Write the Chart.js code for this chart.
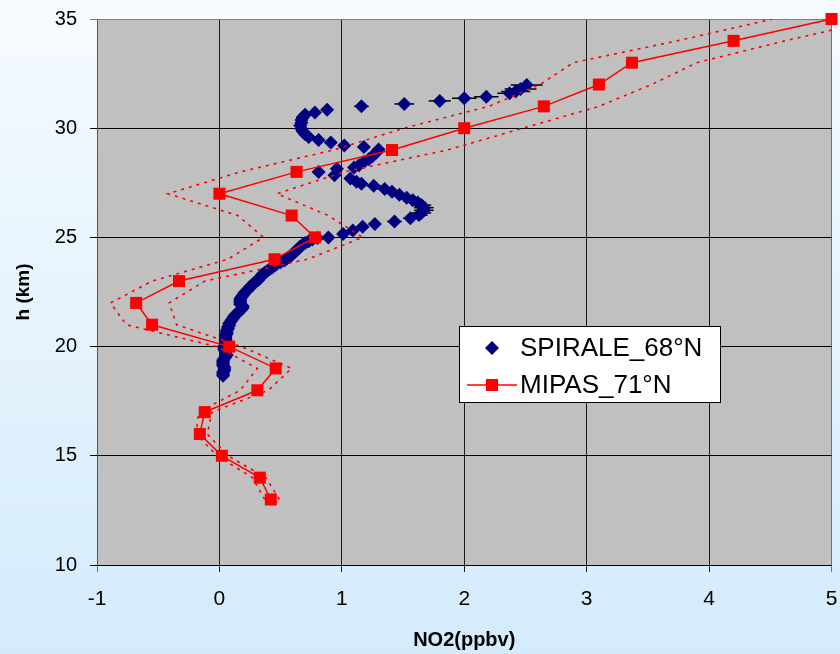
<!DOCTYPE html>
<html>
<head>
<meta charset="utf-8">
<script src="https://cdn.jsdelivr.net/npm/chart.js@4/dist/chart.umd.min.js"></script>
<style>
  html, body { margin: 0; padding: 0; }
  body {
    width: 840px; height: 654px; overflow: hidden;
    background: linear-gradient(to bottom, #f6fbff 0%, #d4ebfb 100%);
  }
  canvas { display: block; }
</style>
</head>
<body>
<canvas id="chart" width="840" height="654"></canvas>
<script>
const FONT = "'Liberation Sans', Arial, sans-serif";
const NARROW = "'Liberation Sans Narrow', 'Liberation Sans', Arial, sans-serif";

// MIPAS 71N profile, one value per km, with lower / upper bounds (dotted)
const mipasH = [13, 14, 15, 16, 17, 18, 19, 20, 21, 22, 23, 24, 25, 26, 27, 28, 29, 30, 31, 32, 33, 34, 35];
const mipasNO2 = [0.42, 0.33, 0.02, -0.16, -0.12, 0.31, 0.46, 0.08, -0.55, -0.68, -0.33, 0.45, 0.78, 0.59, 0.00, 0.63, 1.41, 2.00, 2.65, 3.10, 3.37, 4.20, 5.00];
const mipasLow = [0.37, 0.27, -0.02, -0.19, -0.17, 0.17, 0.31, -0.02, -0.76, -0.89, -0.55, 0.07, 0.36, 0.15, -0.42, 0.17, 0.93, 1.51, 2.20, 2.62, 2.89, 3.74, 4.52];
const mipasHigh = [0.49, 0.38, 0.07, -0.10, -0.06, 0.40, 0.59, 0.18, -0.35, -0.41, -0.12, 0.72, 1.17, 0.89, 0.47, 1.02, 1.86, 2.48, 3.10, 3.53, 3.90, 4.62, 5.40];

// SPIRALE 68N balloon profile (altitude, NO2, error on NO2)
const spiraleH = [
  31.98, 31.80, 31.68, 31.60, 31.44, 31.37, 31.25, 31.11, 31.00, 30.85, 30.72, 30.62, 30.50, 30.38, 30.25, 30.12,
  29.98, 29.86, 29.72, 29.60, 29.46, 29.35, 29.21, 29.14, 29.02, 28.88, 28.72, 28.58, 28.45, 28.30, 28.20, 28.14,
  28.00, 27.84, 27.70, 27.55, 27.46, 27.37, 27.22, 27.09, 26.95, 26.82, 26.70, 26.60, 26.48, 26.36, 26.24, 26.12,
  26.02, 25.88, 25.73, 25.61, 25.49, 25.32, 25.15, 25.00,
  24.97, 24.90, 24.82, 24.74, 24.66, 24.58, 24.50, 24.42, 24.34, 24.26, 24.18, 24.10, 24.02, 23.94, 23.86, 23.78,
  23.70, 23.62, 23.54, 23.46, 23.38, 23.30, 23.22, 23.14, 23.06, 22.98, 22.90, 22.82, 22.74, 22.66, 22.58, 22.50,
  22.42, 22.34, 22.26, 22.18, 22.10, 22.02, 21.94, 21.86, 21.78, 21.70, 21.62, 21.54, 21.46, 21.38, 21.30, 21.22,
  21.14, 21.06, 20.98, 20.90, 20.82, 20.74, 20.66, 20.58, 20.50, 20.42, 20.34, 20.26, 20.18, 20.10, 20.02, 19.94,
  19.86, 19.78, 19.70, 19.62, 19.54, 19.46, 19.38, 19.30, 19.22, 19.14, 19.06, 18.98, 18.90, 18.82, 18.74, 18.66
];
const spiraleNO2 = [
  2.51, 2.46, 2.42, 2.37, 2.18, 2.00, 1.80, 1.51, 1.16, 0.88, 0.78, 0.70, 0.68, 0.67, 0.67, 0.66,
  0.67, 0.68, 0.70, 0.73, 0.81, 0.91, 1.02, 1.18, 1.30, 1.28, 1.25, 1.22, 1.18, 1.14, 1.10, 0.96,
  0.81, 0.94, 1.07, 1.12, 1.16, 1.26, 1.35, 1.41, 1.47, 1.53, 1.58, 1.62, 1.65, 1.67, 1.67, 1.65,
  1.63, 1.56, 1.43, 1.27, 1.17, 1.09, 1.01, 0.89,
  0.80, 0.76, 0.73, 0.70, 0.68, 0.66, 0.65, 0.63, 0.62, 0.60, 0.59, 0.57, 0.55, 0.53, 0.50, 0.47,
  0.45, 0.43, 0.41, 0.39, 0.37, 0.35, 0.34, 0.33, 0.32, 0.30, 0.28, 0.27, 0.25, 0.24, 0.23, 0.21,
  0.20, 0.19, 0.18, 0.17, 0.17, 0.17, 0.17, 0.19, 0.19, 0.18, 0.16, 0.15, 0.13, 0.12, 0.11, 0.10,
  0.09, 0.08, 0.08, 0.07, 0.07, 0.06, 0.06, 0.06, 0.05, 0.05, 0.05, 0.05, 0.05, 0.05, 0.04, 0.04,
  0.04, 0.05, 0.05, 0.06, 0.05, 0.04, 0.03, 0.03, 0.03, 0.03, 0.04, 0.04, 0.04, 0.03, 0.03, 0.03
];
const spiraleErr = [
  0.13, 0.13, 0.12, 0.10, 0.10, 0.10, 0.09, 0.08, 0.06, 0.05, 0.04, 0.04, 0.04, 0.04, 0.04, 0.04,
  0.04, 0.04, 0.04, 0.04, 0.04, 0.04, 0.04, 0.05, 0.05, 0.05, 0.05, 0.05, 0.05, 0.05, 0.05, 0.05,
  0.05, 0.05, 0.05, 0.05, 0.05, 0.06, 0.06, 0.06, 0.06, 0.06, 0.06, 0.07, 0.08, 0.08, 0.08, 0.08,
  0.07, 0.06, 0.06, 0.05, 0.05, 0.05, 0.04, 0.04
];

const xTicks = [-1, 0, 1, 2, 3, 4, 5];
const yTicks = [10, 15, 20, 25, 30, 35];

function points(xs, ys) {
  return xs.map((x, i) => ({ x: x, y: ys[i] }));
}

const plotBackground = {
  id: "plotBackground",
  beforeDraw(chart) {
    const { ctx, chartArea: a } = chart;
    ctx.save();
    ctx.fillStyle = "#c0c0c0";
    ctx.fillRect(a.left, a.top, a.right - a.left, a.bottom - a.top);
    ctx.restore();
  },
};

const errorBars = {
  id: "errorBars",
  beforeDatasetsDraw(chart) {
    const { ctx, scales } = chart;
    ctx.save();
    ctx.strokeStyle = "#000";
    ctx.lineWidth = 1.5;
    spiraleErr.forEach((e, i) => {
      const y = scales.y.getPixelForValue(spiraleH[i]);
      const x1 = scales.x.getPixelForValue(spiraleNO2[i] - e);
      const x2 = scales.x.getPixelForValue(spiraleNO2[i] + e);
      ctx.beginPath();
      ctx.moveTo(x1, y);
      ctx.lineTo(x2, y);
      ctx.stroke();
    });
    ctx.restore();
  },
};

const boxLegend = {
  id: "boxLegend",
  afterDraw(chart) {
    const ctx = chart.ctx;
    const left = 459, top = 326, w = 261, h = 76;
    ctx.save();
    ctx.fillStyle = "#fff";
    ctx.fillRect(left, top, w, h);
    ctx.strokeStyle = "#000";
    ctx.lineWidth = 1;
    ctx.strokeRect(left + 0.5, top + 0.5, w, h);

    // SPIRALE row
    const y1 = 348;
    ctx.fillStyle = "#000080";
    ctx.beginPath();
    ctx.moveTo(492, y1 - 7);
    ctx.lineTo(499, y1);
    ctx.lineTo(492, y1 + 7);
    ctx.lineTo(485, y1);
    ctx.closePath();
    ctx.fill();

    // MIPAS row
    const y2 = 385;
    ctx.strokeStyle = "#ff0000";
    ctx.lineWidth = 1.5;
    ctx.beginPath();
    ctx.moveTo(467, y2);
    ctx.lineTo(517, y2);
    ctx.stroke();
    ctx.fillStyle = "#ff0000";
    ctx.fillRect(486, y2 - 6, 12, 12);

    ctx.fillStyle = "#000";
    ctx.font = "26px " + FONT;
    ctx.textBaseline = "middle";
    ctx.fillText("SPIRALE_68°N", 520, y1 + 1);
    ctx.fillText("MIPAS_71°N", 520, y2 + 1);
    ctx.restore();
  },
};

new Chart(document.getElementById("chart"), {
  type: "scatter",
  data: {
    datasets: [
      {
        label: "SPIRALE_68°N",
        data: points(spiraleNO2, spiraleH),
        pointStyle: "rectRot",
        pointRadius: 7,
        pointBorderWidth: 0,
        backgroundColor: "#000080",
        borderColor: "#000080",
        showLine: false,
        order: 3,
      },
      {
        label: "MIPAS low",
        data: points(mipasLow, mipasH),
        showLine: true,
        pointRadius: 0,
        borderColor: "#ff0000",
        borderWidth: 1.6,
        borderDash: [3, 5],
        order: 2,
      },
      {
        label: "MIPAS high",
        data: points(mipasHigh, mipasH),
        showLine: true,
        pointRadius: 0,
        borderColor: "#ff0000",
        borderWidth: 1.6,
        borderDash: [3, 5],
        order: 2,
      },
      {
        label: "MIPAS_71°N",
        data: points(mipasNO2, mipasH),
        showLine: true,
        pointStyle: "rect",
        pointRadius: 8.5,
        pointBorderWidth: 0,
        backgroundColor: "#ff0000",
        borderColor: "#ff0000",
        borderWidth: 1.5,
        clip: false,
        order: 1,
      },
    ],
  },
  options: {
    responsive: false,
    animation: false,
    events: [],
    layout: { padding: { top: 19, right: 8, left: 0, bottom: 0 } },
    plugins: {
      legend: { display: false },
      tooltip: { enabled: false },
    },
    scales: {
      x: {
        type: "linear",
        min: -1,
        max: 5,
        afterBuildTicks: (s) => { s.ticks = xTicks.map((v) => ({ value: v })); },
        afterFit: (s) => { s.height = 89; s.paddingLeft = 0; s.paddingRight = 0; },
        ticks: { color: "#000", padding: 15, font: { size: 21, family: NARROW } },
        grid: {
          color: (c) => (c.tick && (c.tick.value === 5 || c.tick.value === -1) ? "#707070" : "#1a1a1a"),
          lineWidth: 1,
          tickLength: 7,
        },
        border: { color: "#000", width: 1 },
        title: {
          display: true,
          text: "NO2(ppbv)",
          color: "#000",
          font: { size: 20, weight: "bold", family: NARROW },
          padding: { top: 0, bottom: 2 },
        },
      },
      y: {
        type: "linear",
        min: 10,
        max: 35,
        afterBuildTicks: (s) => { s.ticks = yTicks.map((v) => ({ value: v })); },
        afterFit: (s) => { s.width = 97; s.paddingTop = 0; s.paddingBottom = 0; },
        ticks: { color: "#000", padding: 13, font: { size: 20, family: FONT } },
        grid: {
          color: (c) => (c.tick && c.tick.value === 35 ? "#808080" : "#000"),
          lineWidth: 1,
          tickLength: 7,
        },
        border: { color: "#555", width: 1 },
        title: {
          display: true,
          text: "h (km)",
          color: "#000",
          font: { size: 19, weight: "bold", family: FONT },
          padding: { top: 12, bottom: 0 },
        },
      },
    },
  },
  plugins: [plotBackground, errorBars, boxLegend],
});
</script>
</body>
</html>
